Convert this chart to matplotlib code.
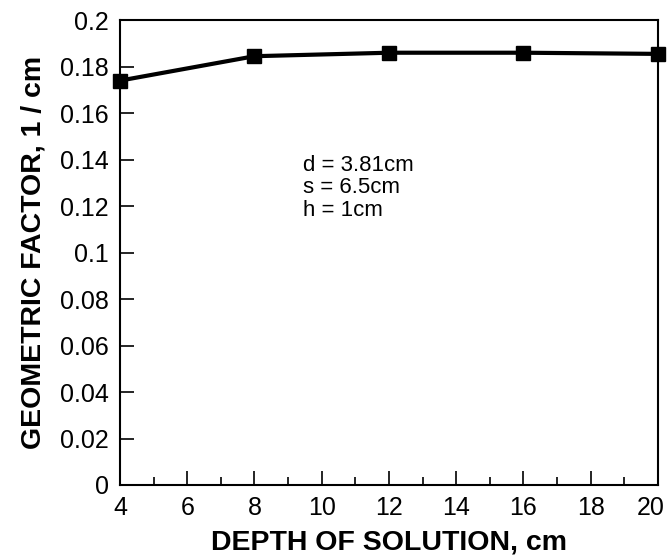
import matplotlib

matplotlib.use("Agg")
import matplotlib.pyplot as plt
from matplotlib.ticker import MultipleLocator
from matplotlib.transforms import ScaledTranslation

depth = [4, 8, 12, 16, 20]
geo_factor = [0.174, 0.1845, 0.186, 0.186, 0.1855]
params = ["d = 3.81cm", "s = 6.5cm", "h = 1cm"]
x_ticks = [4, 6, 8, 10, 12, 14, 16, 18, 20]
y_ticks = [0, 0.02, 0.04, 0.06, 0.08, 0.1, 0.12, 0.14, 0.16, 0.18, 0.2]
y_labels = ["0", "0.02", "0.04", "0.06", "0.08", "0.1", "0.12", "0.14", "0.16", "0.18", "0.2"]

plt.rcParams["font.family"] = "Liberation Sans"

fig = plt.figure(figsize=(6.69, 5.56), dpi=100)
ax = fig.add_axes([0.1794, 0.1277, 0.804, 0.836])

ax.plot(depth, geo_factor, "s-", color="black", lw=3, ms=10.5,
        solid_joinstyle="round", clip_on=False, zorder=3)

ax.set_xlim(4, 20)
ax.set_ylim(0, 0.2)
ax.set_xticks(x_ticks)
ax.xaxis.set_minor_locator(MultipleLocator(1))
ax.set_yticks(y_ticks, y_labels)
ax.tick_params(which="both", direction="in", top=False, right=False)
ax.tick_params(which="major", length=10, width=1.2, labelsize=18, pad=8)
ax.tick_params(which="minor", length=6, width=1.2)
for sp in ax.spines.values():
    sp.set_linewidth(1.5)

ax.set_xlabel("DEPTH OF SOLUTION, cm", fontsize=20.5, fontweight="bold", labelpad=7)
ax.set_ylabel("GEOMETRIC FACTOR, 1 / cm", fontsize=20.5, fontweight="bold", labelpad=10)

for i, txt in enumerate(params):
    ax.text(0.34, 0.688 - i * 0.049, txt, transform=ax.transAxes,
            fontsize=16, va="center")

# keep the "20" label inside the figure like the original
fig.canvas.draw()
last = ax.xaxis.get_major_ticks()[-1].label1
last.set_transform(last.get_transform() + ScaledTranslation(-5 / 72, 0, fig.dpi_scale_trans))

fig.savefig("out.png", dpi=100)
